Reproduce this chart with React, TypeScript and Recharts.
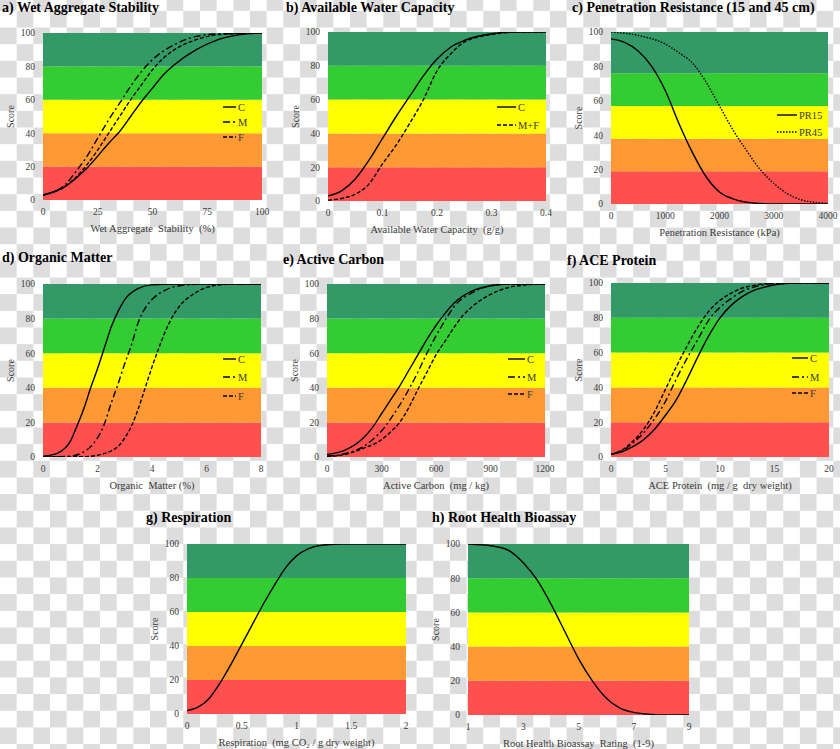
import React from 'react'
import { LineChart, Line, XAxis, YAxis, ReferenceArea } from 'recharts'

// score bands shared by all panels
const scoreTicks = [0, 20, 40, 60, 80, 100]
const bandEdges = [0, 20, 40, 60, 80, 100]
const prBandEdges = [0, 19, 38, 57, 76, 100]
const bandColors = ['#ff5050', '#ff9933', '#ffff00', '#33cc33', '#339966']

// a) wet aggregate stability
const wasTicks = [0, 25, 50, 75, 100]
const wasXC = [0, 10, 20, 30, 35, 40, 45, 50, 55, 60, 70, 80, 90, 100]
const wasC = [3, 8, 19, 34, 41, 50, 59, 67, 75, 81, 90, 96, 99, 100]
const wasXM = [0, 10, 15, 20, 25, 30, 35, 40, 45, 50, 60, 70, 80, 100]
const wasM = [3, 9, 17, 26, 37, 48, 58, 68, 77, 84, 93, 98, 99.5, 100]
const wasXF = [0, 10, 20, 25, 30, 35, 40, 45, 50, 55, 60, 70, 80, 100]
const wasF = [3, 8, 21, 30, 40, 50, 60, 69, 78, 85, 90, 96, 99, 100]

// b) available water capacity
const awcTicks = [0, 0.1, 0.2, 0.3, 0.4]
const awcX = [0, 0.025, 0.05, 0.075, 0.1, 0.125, 0.15, 0.175, 0.2, 0.225, 0.25, 0.3, 0.35, 0.4]
const awcC = [3, 6, 13, 24, 37, 50, 62, 74, 84, 91, 95, 99, 100, 100]
const awcMF = [0.5, 1.5, 4, 10, 22, 33, 46, 60, 77, 87, 94, 98.5, 100, 100]

// c) penetration resistance
const prTicks = [0, 1000, 2000, 3000, 4000]
const prX15 = [0, 250, 500, 750, 1000, 1250, 1500, 1750, 2000, 2250, 2500, 3000, 4000]
const pr15 = [96, 94, 89, 80, 66, 47, 30, 16, 7, 3, 1, 0, 0]
const prX45 = [0, 500, 1000, 1250, 1500, 1750, 2000, 2250, 2500, 2750, 3000, 3250, 3500, 3750, 4000]
const pr45 = [100, 98, 93, 88, 82, 71, 57, 43, 31, 20, 12, 6, 2.5, 1, 0.3]

// d) organic matter
const omTicks = [0, 2, 4, 6, 8]
const omXC = [0, 0.5, 1, 1.25, 1.5, 1.75, 2, 2.25, 2.5, 2.75, 3, 3.5, 4, 5, 8]
const omC = [0.5, 2, 9, 18, 28, 40, 51, 63, 75, 84, 91, 97.5, 99.5, 100, 100]
const omXM = [0, 1, 1.5, 1.75, 2, 2.25, 2.5, 2.75, 3, 3.25, 3.5, 3.75, 4, 4.5, 5, 6, 8]
const omM = [0, 0.5, 3, 6, 11, 19, 31, 42, 54, 65, 78, 86, 91, 96.5, 99, 100, 100]
const omXF = [0, 1.5, 2, 2.5, 2.75, 3, 3.25, 3.5, 3.75, 4, 4.25, 4.5, 4.75, 5, 5.5, 6, 6.5, 7, 8]
const omF = [0, 0.2, 1, 3.5, 6, 11, 18, 28, 40, 52, 63, 73, 81, 87, 94, 98, 99.5, 100, 100]

// e) active carbon
const acTicks = [0, 300, 600, 900, 1200]
const acXC = [0, 100, 200, 250, 300, 350, 400, 450, 500, 550, 600, 650, 700, 800, 900, 1000, 1200]
const acC = [1.5, 4, 11, 17, 25, 33, 41, 50, 59, 68, 76, 83, 89, 96, 99, 100, 100]
const acM = [0.5, 2, 6, 10, 15, 22, 30, 39, 49, 60, 70, 79, 87, 95, 99, 100, 100]
const acXF = [0, 100, 200, 300, 350, 400, 450, 500, 550, 600, 650, 700, 750, 800, 900, 1000, 1100, 1200]
const acF = [0.3, 1.5, 5, 10, 14.5, 20, 28.5, 39, 49, 59, 67, 75, 82, 87, 94, 98, 99.5, 100]

// f) ACE protein
const aceTicks = [0, 5, 10, 15, 20]
const aceXC = [0, 1, 2, 3, 4, 5, 6, 7, 8, 9, 10, 11, 12, 13, 14, 15, 17, 20]
const aceC = [1.5, 3, 6, 10, 16, 24, 33, 45, 58, 70, 80, 87, 92, 95.5, 97.5, 99, 100, 100]
const aceX = [0, 1, 2, 3, 4, 5, 6, 7, 8, 9, 10, 11, 12, 13, 14, 16, 20]
const aceM = [1.5, 3.5, 8, 14, 22, 32, 45, 57, 68, 79, 86, 91, 95, 97.5, 99, 100, 100]
const aceF = [1.5, 4, 9, 16, 26, 39, 52, 64, 75, 84, 90, 94, 97, 98.5, 99.5, 100, 100]

// g) respiration
const respTicks = [0, 0.5, 1, 1.5, 2]
const respX = [0, 0.1, 0.2, 0.3, 0.4, 0.5, 0.6, 0.7, 0.8, 0.9, 1, 1.1, 1.2, 1.4, 2]
const resp = [2, 4, 9, 18, 29, 41, 53, 65, 76, 86, 93, 97, 99, 100, 100]

// h) root health bioassay
const rhTicks = [1, 3, 5, 7, 9]
const rhX = [1, 1.5, 2, 2.5, 3, 3.5, 4, 4.5, 5, 5.5, 6, 6.5, 7, 7.5, 8, 9]
const rh = [100, 99.5, 98.5, 96, 89, 79, 65, 49, 33, 20, 10, 4, 1.5, 0.5, 0, 0]

const zip = (xs: number[], ys: number[]) => xs.map((x, i) => ({ x, y: ys[i] }))

const SERIF = "'Liberation Serif', 'DejaVu Serif', serif"
const TEXT = '#3a3a3a'
const SOLID = ''
const DASHDOT = '7 3 2 3'
const DASHED = '4 2'
const DOTTED = '1.5 1.5'

const PAD_L = 45
const PAD_R = 10
const PAD_T = 10
const PAD_B = 40

type Series = { name: string; data: { x: number; y: number }[]; dash: string }
type PanelDef = {
  title: string
  titleAt: [number, number]
  plot: { l: number; r: number; t: number; b: number }
  domain: [number, number]
  ticks: number[]
  xTitle: React.ReactNode
  bands: number[]
  series: Series[]
  legend?: { x: number; len: number; rows: number[] }
}

const panels: PanelDef[] = [
  {
    title: 'a) Wet Aggregate Stability',
    titleAt: [2, 0],
    plot: { l: 43, r: 262, t: 33, b: 200 },
    domain: [0, 100],
    ticks: wasTicks,
    xTitle: 'Wet Aggregate  Stability  (%)',
    bands: bandEdges,
    series: [
      { name: 'C', data: zip(wasXC, wasC), dash: SOLID },
      { name: 'M', data: zip(wasXM, wasM), dash: DASHDOT },
      { name: 'F', data: zip(wasXF, wasF), dash: DASHED },
    ],
    legend: { x: 223, len: 13, rows: [107, 122, 137] },
  },
  {
    title: 'b) Available Water Capacity',
    titleAt: [286, 0],
    plot: { l: 328, r: 546, t: 32, b: 201 },
    domain: [0, 0.4],
    ticks: awcTicks,
    xTitle: 'Available Water Capacity  (g/g)',
    bands: bandEdges,
    series: [
      { name: 'C', data: zip(awcX, awcC), dash: SOLID },
      { name: 'M+F', data: zip(awcX, awcMF), dash: DASHED },
    ],
    legend: { x: 497, len: 19, rows: [107, 125] },
  },
  {
    title: 'c) Penetration Resistance (15 and 45 cm)',
    titleAt: [572, 0],
    plot: { l: 611, r: 828, t: 32, b: 204 },
    domain: [0, 4000],
    ticks: prTicks,
    xTitle: 'Penetration Resistance (kPa)',
    bands: prBandEdges,
    series: [
      { name: 'PR15', data: zip(prX15, pr15), dash: SOLID },
      { name: 'PR45', data: zip(prX45, pr45), dash: DOTTED },
    ],
    legend: { x: 777, len: 20, rows: [115, 132] },
  },
  {
    title: 'd) Organic Matter',
    titleAt: [2, 250],
    plot: { l: 43, r: 261, t: 284, b: 457 },
    domain: [0, 8],
    ticks: omTicks,
    xTitle: 'Organic  Matter (%)',
    bands: bandEdges,
    series: [
      { name: 'C', data: zip(omXC, omC), dash: SOLID },
      { name: 'M', data: zip(omXM, omM), dash: DASHDOT },
      { name: 'F', data: zip(omXF, omF), dash: DASHED },
    ],
    legend: { x: 223, len: 13, rows: [359, 377, 396] },
  },
  {
    title: 'e) Active Carbon',
    titleAt: [283, 251.5],
    plot: { l: 327, r: 545, t: 284, b: 457 },
    domain: [0, 1200],
    ticks: acTicks,
    xTitle: 'Active Carbon  (mg / kg)',
    bands: bandEdges,
    series: [
      { name: 'C', data: zip(acXC, acC), dash: SOLID },
      { name: 'M', data: zip(acXC, acM), dash: DASHDOT },
      { name: 'F', data: zip(acXF, acF), dash: DASHED },
    ],
    legend: { x: 508, len: 17, rows: [359, 377, 394] },
  },
  {
    title: 'f) ACE Protein',
    titleAt: [567, 252.5],
    plot: { l: 611, r: 829, t: 283, b: 457 },
    domain: [0, 20],
    ticks: aceTicks,
    xTitle: 'ACE Protein  (mg / g  dry weight)',
    bands: bandEdges,
    series: [
      { name: 'C', data: zip(aceXC, aceC), dash: SOLID },
      { name: 'M', data: zip(aceX, aceM), dash: DASHDOT },
      { name: 'F', data: zip(aceX, aceF), dash: DASHED },
    ],
    legend: { x: 792, len: 16, rows: [358, 377, 393] },
  },
  {
    title: 'g) Respiration',
    titleAt: [146, 509.5],
    plot: { l: 187, r: 406, t: 544, b: 714 },
    domain: [0, 2],
    ticks: respTicks,
    xTitle: (
      <>
        Respiration  (mg CO<tspan baselineShift="sub" fontSize={7}>2</tspan> / g dry weight)
      </>
    ),
    bands: bandEdges,
    series: [{ name: 'R', data: zip(respX, resp), dash: SOLID }],
  },
  {
    title: 'h) Root Health Bioassay',
    titleAt: [432, 509.5],
    plot: { l: 468, r: 689, t: 544, b: 715 },
    domain: [1, 9],
    ticks: rhTicks,
    xTitle: 'Root Health Bioassay  Rating  (1-9)',
    bands: bandEdges,
    series: [{ name: 'RH', data: zip(rhX, rh), dash: SOLID }],
  },
]

const tickStyle = { fontSize: 9.5, fill: TEXT, fontFamily: SERIF }

function ScoreLabel(props: any) {
  const vb = props.viewBox || {}
  const cx = vb.x + 12
  const cy = vb.y + vb.height / 2
  return (
    <text
      x={cx}
      y={cy}
      transform={`rotate(-90 ${cx} ${cy})`}
      textAnchor="middle"
      dominantBaseline="central"
      fontSize={10}
      fill={TEXT}
      fontFamily={SERIF}
    >
      Score
    </text>
  )
}

function Panel({ p }: { p: PanelDef }) {
  const w = p.plot.r - p.plot.l + PAD_L + PAD_R
  const h = p.plot.b - p.plot.t + PAD_T + PAD_B
  const XTitle = (props: any) => {
    const vb = props.viewBox || {}
    return (
      <text
        x={vb.x + vb.width / 2}
        y={vb.y + 28}
        textAnchor="middle"
        dominantBaseline="central"
        fontSize={10.5}
        fill={TEXT}
        fontFamily={SERIF}
        style={{ whiteSpace: 'pre' }}
      >
        {p.xTitle}
      </text>
    )
  }
  return (
    <>
      <div
        style={{
          position: 'absolute',
          left: p.titleAt[0],
          top: p.titleAt[1],
          fontFamily: SERIF,
          fontWeight: 'bold',
          fontSize: 14,
          whiteSpace: 'nowrap',
          color: '#000',
        }}
      >
        {p.title}
      </div>
      <div style={{ position: 'absolute', left: p.plot.l - PAD_L, top: p.plot.t - PAD_T }}>
        <LineChart width={w} height={h} margin={{ top: PAD_T, right: PAD_R, left: 0, bottom: 0 }}>
          {bandColors.map((c, i) => (
            <ReferenceArea
              key={c}
              y1={p.bands[i]}
              y2={p.bands[i + 1]}
              fill={c}
              fillOpacity={1}
              stroke="none"
              ifOverflow="visible"
            />
          ))}
          <XAxis
            type="number"
            dataKey="x"
            domain={p.domain}
            ticks={p.ticks}
            axisLine={false}
            tickLine={false}
            tick={tickStyle}
            height={PAD_B}
            allowDataOverflow
            label={XTitle}
          />
          <YAxis
            type="number"
            domain={[0, 100]}
            ticks={scoreTicks}
            axisLine={false}
            tickLine={false}
            tick={tickStyle}
            width={PAD_L}
            allowDataOverflow
            label={ScoreLabel}
          />
          {p.series.map((s) => (
            <Line
              key={s.name}
              data={s.data}
              dataKey="y"
              type="monotone"
              stroke="#000"
              strokeWidth={1.4}
              strokeDasharray={s.dash || undefined}
              dot={false}
              activeDot={false}
              isAnimationActive={false}
            />
          ))}
        </LineChart>
      </div>
      {p.legend &&
        p.series.map((s, i) => (
          <div
            key={s.name}
            style={{
              position: 'absolute',
              left: p.legend!.x,
              top: p.legend!.rows[i] - 7,
              height: 14,
              display: 'flex',
              alignItems: 'center',
              fontFamily: SERIF,
              fontSize: 10.5,
              color: TEXT,
              whiteSpace: 'nowrap',
            }}
          >
            <svg width={p.legend!.len} height={4} style={{ marginRight: 2 }}>
              <line
                x1={0}
                y1={2}
                x2={p.legend!.len}
                y2={2}
                stroke="#000"
                strokeWidth={1.4}
                strokeDasharray={s.dash || undefined}
              />
            </svg>
            {s.name}
          </div>
        ))}
    </>
  )
}

export default function App() {
  return (
    <div
      style={{
        position: 'absolute',
        left: 0,
        top: 0,
        width: 840,
        height: 749,
        overflow: 'hidden',
        backgroundImage: 'conic-gradient(#ffffff 25%, #dddddd 0 50%, #ffffff 0 75%, #dddddd 0)',
        backgroundSize: '33.333px 33.333px',
        backgroundPosition: '0px -5.8px',
        fontFamily: SERIF,
      }}
    >
      {panels.map((p) => (
        <Panel key={p.title} p={p} />
      ))}
    </div>
  )
}
